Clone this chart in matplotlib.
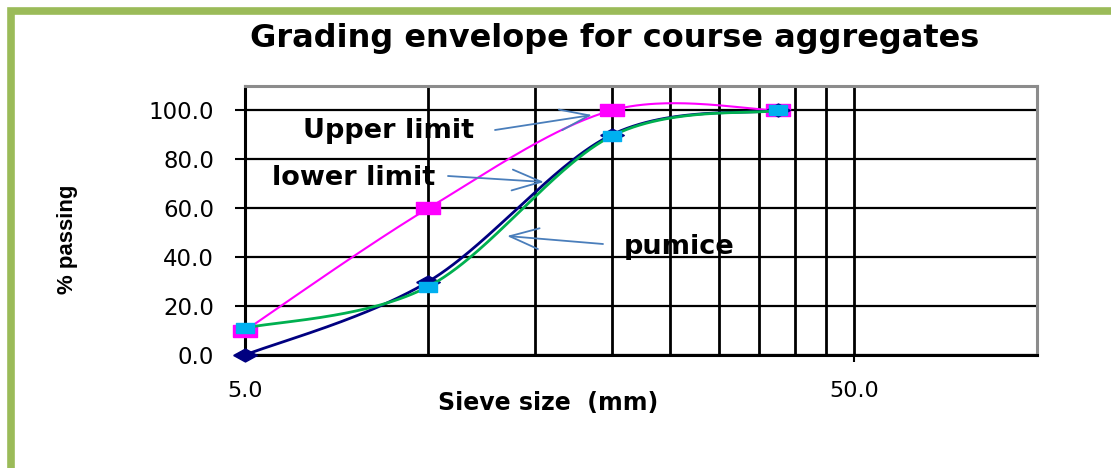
import numpy as np
import matplotlib
matplotlib.use("Agg")
import matplotlib.pyplot as plt
from matplotlib.patches import Rectangle

# ---------------- data ----------------
sieve_sizes = [5.0, 10.0, 20.0, 37.5]
upper_limit = [10.0, 60.0, 100.0, 100.0]
lower_limit = [0.0, 30.0, 90.0, 100.0]
pumice = [11.0, 28.0, 89.5, 100.0]

x_major_ticks = [5.0, 50.0]
x_major_labels = ["5.0", "50.0"]
x_grid_sizes = [10, 15, 20, 25, 30, 35, 40, 45]
y_ticks = [0, 20, 40, 60, 80, 100]
y_tick_labels = ["%.1f" % v for v in y_ticks]

title = "Grading envelope for course aggregates"
x_label = "Sieve size  (mm)"
y_label = "% passing"


def smooth(xs, ys, n=60):
    """Excel-like smoothed line: Catmull-Rom Bezier segments in (log x, y) space."""
    u = np.log10(np.asarray(xs, float))
    v = np.asarray(ys, float)
    P = np.column_stack([u, v])
    P = np.vstack([P[0], P, P[-1]])
    out = []
    t = np.linspace(0, 1, n)
    for i in range(1, len(P) - 2):
        p0, p1, p2, p3 = P[i - 1], P[i], P[i + 1], P[i + 2]
        c1 = p1 + (p2 - p0) / 6.0
        c2 = p2 - (p3 - p1) / 6.0
        seg = ((1 - t) ** 3)[:, None] * p1 + (3 * (1 - t) ** 2 * t)[:, None] * c1 \
            + (3 * (1 - t) * t ** 2)[:, None] * c2 + (t ** 3)[:, None] * p2
        out.append(seg if i == 1 else seg[1:])
    out = np.vstack(out)
    return 10 ** out[:, 0], out[:, 1]


W, H = 1111, 468
fig = plt.figure(figsize=(W / 100, H / 100), dpi=100)
fig.patch.set_facecolor("white")

L, R, T, B = 245, 1037, 86, 355
ax = fig.add_axes([L / W, 1 - B / H, (R - L) / W, (B - T) / H])
ax.set_xscale("log")
ax.set_xlim(5, 100)
ax.set_ylim(0, 110)

ax.set_xticks(x_major_ticks)
ax.set_xticklabels(x_major_labels)
ax.set_xticks(x_grid_sizes, minor=True)
ax.xaxis.set_minor_formatter(matplotlib.ticker.NullFormatter())
ax.tick_params(axis="x", which="minor", length=0)
ax.tick_params(axis="x", which="major", length=5, width=1.5, color="black",
               labelsize=16, pad=14)
ax.set_yticks(y_ticks)
ax.set_yticklabels(y_tick_labels)
ax.tick_params(axis="y", which="major", length=7.2, width=1.5, labelsize=16.5, pad=15)
for lab in ax.get_xticklabels() + ax.get_yticklabels():
    lab.set_family("DejaVu Sans")
ax.grid(True, which="both", axis="x", color="black", lw=2.0)
ax.grid(True, which="major", axis="y", color="black", lw=1.6)
ax.set_axisbelow(True)

for side in ["left", "bottom"]:
    ax.spines[side].set_color("black")
    ax.spines[side].set_linewidth(2.2)
for side in ["top", "right"]:
    ax.spines[side].set_color("#8c8c8c")
    ax.spines[side].set_linewidth(2.2)

rect_marker = [(-1.1, -0.6), (1.1, -0.6), (1.1, 0.6), (-1.1, 0.6), (-1.1, -0.6)]
diamond_marker = [(-1.0, 0.0), (0.0, 0.55), (1.0, 0.0), (0.0, -0.55), (-1.0, 0.0)]

xs, ys = smooth(sieve_sizes, upper_limit)
ax.plot(xs, ys, color="#FF00FF", lw=1.5, zorder=3)
ax.plot(sieve_sizes, upper_limit, ls="none", marker=rect_marker, ms=17,
        color="#FF00FF", mec="#FF00FF", zorder=4, clip_on=False)

xs, ys = smooth(sieve_sizes, lower_limit)
ax.plot(xs, ys, color="#000080", lw=2.0, zorder=3)
ax.plot(sieve_sizes, lower_limit, ls="none", marker=diamond_marker, ms=17,
        color="#000080", mec="#000080", zorder=4, clip_on=False)

xs, ys = smooth(sieve_sizes, pumice)
ax.plot(xs, ys, color="#00B050", lw=2.0, zorder=5)
ax.plot(sieve_sizes, pumice, ls="none", marker=rect_marker, ms=13,
        color="#00B0F0", mec="#00B0F0", zorder=6, clip_on=False)

fig.text(615 / W, 1 - 38 / H, title, ha="center", va="center",
         fontsize=23, fontweight="bold", family="DejaVu Sans")
fig.text(548 / W, 1 - 403 / H, x_label, ha="center", va="center",
         fontsize=17, fontweight="bold", family="DejaVu Sans")
fig.text(68 / W, 1 - 239 / H, y_label, ha="center", va="center", rotation=90,
         fontsize=16, fontweight="bold", family="Liberation Sans")

arrow_kw = dict(arrowstyle="->,head_length=1.4,head_width=0.5", color="#4A7EBB",
                lw=1.3, mutation_scale=15, shrinkA=0, shrinkB=0)
ann_font = dict(fontsize=19.5, fontweight="bold", family="DejaVu Sans",
                va="center", ha="left")


def fp(x, y):
    return (x, H - y)

fig.text(303 / W, 1 - 131 / H, "Upper limit", **ann_font)
fig.text(272 / W, 1 - 178 / H, "lower limit", **ann_font)
fig.text(624 / W, 1 - 247 / H, "pumice", **ann_font)
ax.annotate("", xy=fp(592, 115), xytext=fp(495, 130), xycoords="figure pixels",
            textcoords="figure pixels", arrowprops=arrow_kw)
ax.annotate("", xy=fp(544, 182), xytext=fp(448, 176), xycoords="figure pixels",
            textcoords="figure pixels", arrowprops=arrow_kw)
ax.annotate("", xy=fp(507, 236), xytext=fp(603, 244), xycoords="figure pixels",
            textcoords="figure pixels", arrowprops=arrow_kw)

fig.add_artist(Rectangle((11 / W, -0.5), 2.0, 1.5 - 10.5 / H,
                         transform=fig.transFigure, fill=False,
                         edgecolor="#9BBB59", lw=5.5))

fig.savefig("out.png", dpi=100, facecolor="white")
